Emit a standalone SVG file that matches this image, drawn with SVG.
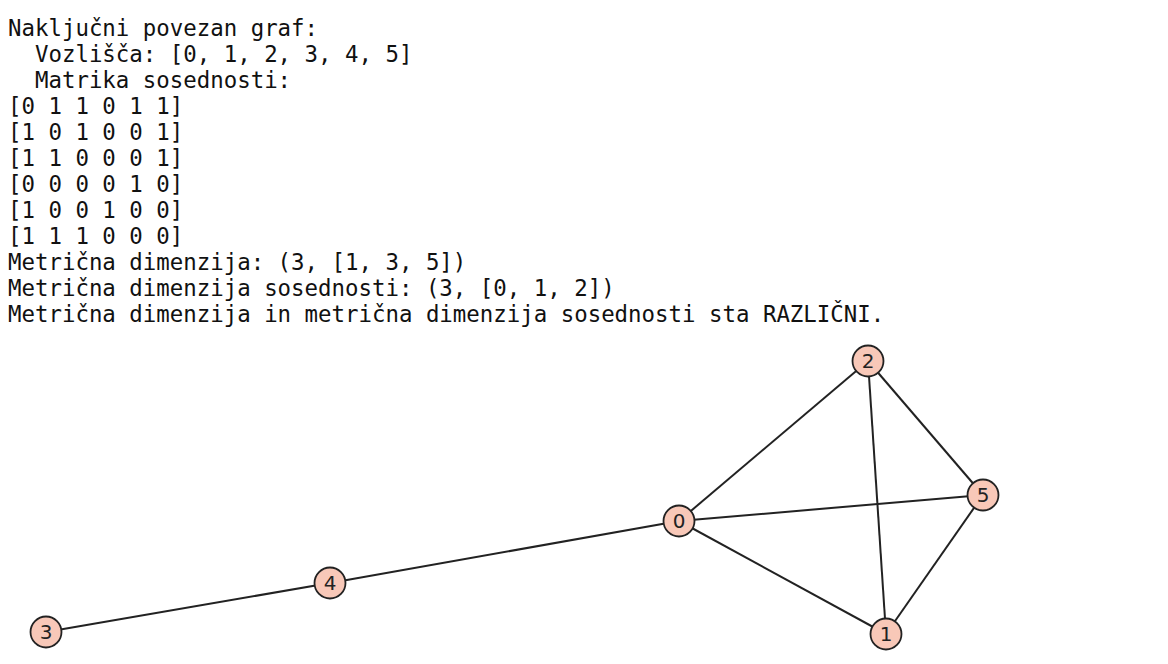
<svg xmlns="http://www.w3.org/2000/svg" width="1168" height="664" viewBox="0 0 1168 664">
<style>
.t{font-family:"DejaVu Sans Mono","Liberation Mono",monospace;font-size:22.4px;fill:#111;white-space:pre}
.e{stroke:#222;stroke-width:2;fill:none}
.n circle{fill:#f8c8b8;stroke:#222;stroke-width:1.8}
.n text{font-family:"DejaVu Sans","Liberation Sans",sans-serif;font-size:20px;fill:#222;text-anchor:middle;dominant-baseline:central}
</style>
<rect width="1168" height="664" fill="#fff"/>
<g id="output">
<text class="t" x="8" y="36" xml:space="preserve">Naključni povezan graf:</text>
<text class="t" x="8" y="62" xml:space="preserve">  Vozlišča: [0, 1, 2, 3, 4, 5]</text>
<text class="t" x="8" y="88" xml:space="preserve">  Matrika sosednosti:</text>
<text class="t" x="8" y="114">[0 1 1 0 1 1]</text>
<text class="t" x="8" y="140">[1 0 1 0 0 1]</text>
<text class="t" x="8" y="166">[1 1 0 0 0 1]</text>
<text class="t" x="8" y="192">[0 0 0 0 1 0]</text>
<text class="t" x="8" y="218">[1 0 0 1 0 0]</text>
<text class="t" x="8" y="244">[1 1 1 0 0 0]</text>
<text class="t" x="8" y="270">Metrična dimenzija: (3, [1, 3, 5])</text>
<text class="t" x="8" y="296">Metrična dimenzija sosednosti: (3, [0, 1, 2])</text>
<text class="t" x="8" y="322">Metrična dimenzija in metrična dimenzija sosednosti sta RAZLIČNI.</text>
</g>
<g id="edges">
<line class="e" x1="679" y1="521" x2="886" y2="634"/>
<line class="e" x1="679" y1="521" x2="868" y2="361"/>
<line class="e" x1="679" y1="521" x2="330" y2="583"/>
<line class="e" x1="679" y1="521" x2="983" y2="495"/>
<line class="e" x1="886" y1="634" x2="868" y2="361"/>
<line class="e" x1="886" y1="634" x2="983" y2="495"/>
<line class="e" x1="868" y1="361" x2="983" y2="495"/>
<line class="e" x1="46" y1="632" x2="330" y2="583"/>
</g>
<g id="node0" class="n"><circle cx="679" cy="521" r="15.5"/><text x="679" y="521">0</text></g>
<g id="node1" class="n"><circle cx="886" cy="634" r="15.5"/><text x="886" y="634">1</text></g>
<g id="node2" class="n"><circle cx="868" cy="361" r="15.5"/><text x="868" y="361">2</text></g>
<g id="node3" class="n"><circle cx="46" cy="632" r="15.5"/><text x="46" y="632">3</text></g>
<g id="node4" class="n"><circle cx="330" cy="583" r="15.5"/><text x="330" y="583">4</text></g>
<g id="node5" class="n"><circle cx="983" cy="495" r="15.5"/><text x="983" y="495">5</text></g>
</svg>
